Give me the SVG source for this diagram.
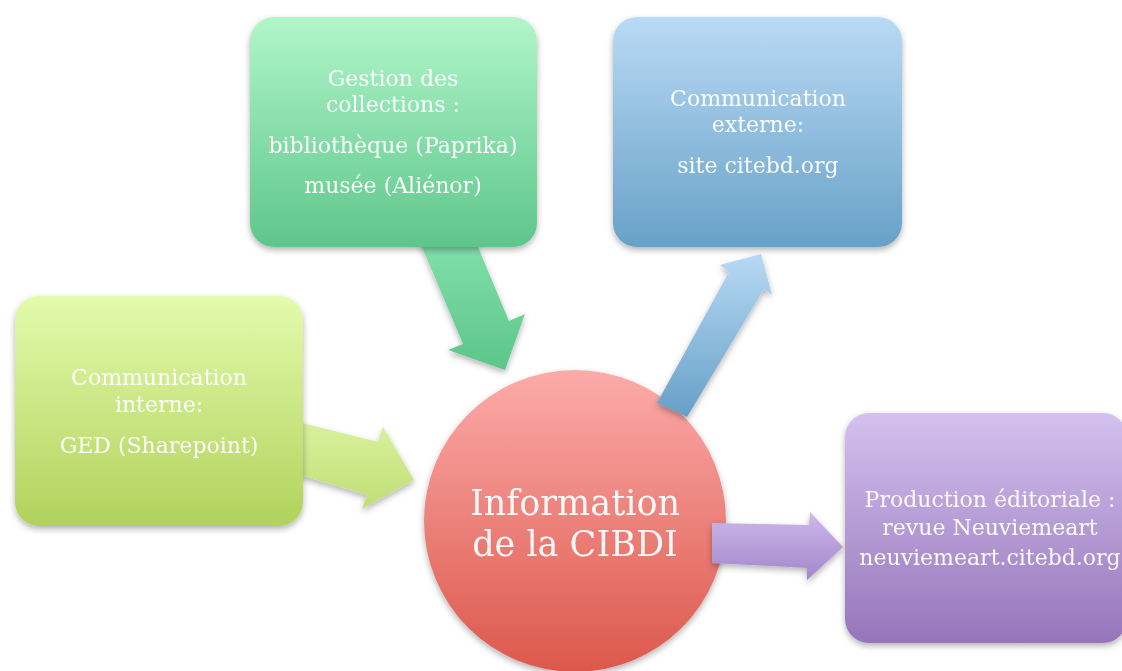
<svg xmlns="http://www.w3.org/2000/svg" width="1122" height="671" viewBox="0 0 1122 671">
<defs>
<linearGradient id="gGreen" x1="0" y1="0" x2="0" y2="1"><stop offset="0" stop-color="#b1f6c9"/><stop offset="1" stop-color="#5ec68b"/></linearGradient>
<linearGradient id="gBlue" x1="0" y1="0" x2="0" y2="1"><stop offset="0" stop-color="#b9daf5"/><stop offset="1" stop-color="#68a1c7"/></linearGradient>
<linearGradient id="gLime" x1="0" y1="0" x2="0" y2="1"><stop offset="0" stop-color="#e3fbac"/><stop offset="1" stop-color="#b1d25c"/></linearGradient>
<linearGradient id="gPurple" x1="0" y1="0" x2="0" y2="1"><stop offset="0" stop-color="#d4c1ef"/><stop offset="1" stop-color="#9675ba"/></linearGradient>
<linearGradient id="gRed" x1="0" y1="0" x2="0" y2="1"><stop offset="0" stop-color="#fcaba9"/><stop offset="1" stop-color="#dc584c"/></linearGradient>
<linearGradient id="aGreen" x1="0" y1="0" x2="0" y2="1"><stop offset="0" stop-color="#84e0ac"/><stop offset="1" stop-color="#5cc689"/></linearGradient>
<linearGradient id="aBlue" x1="0" y1="0" x2="0" y2="1"><stop offset="0" stop-color="#b8d9f5"/><stop offset="1" stop-color="#66a0c6"/></linearGradient>
<linearGradient id="aLime" x1="0" y1="0" x2="0" y2="1"><stop offset="0" stop-color="#d9f29e"/><stop offset="1" stop-color="#c0de76"/></linearGradient>
<linearGradient id="aPurple" x1="0" y1="0" x2="0" y2="1"><stop offset="0" stop-color="#ccb9ea"/><stop offset="1" stop-color="#a386cb"/></linearGradient>
<filter id="sh" x="-10%" y="-10%" width="120%" height="125%"><feDropShadow dx="0" dy="3" stdDeviation="3" flood-color="#000" flood-opacity="0.3"/></filter>
</defs>
<style>
text{font-family:"DejaVu Serif","Liberation Serif",serif;fill:#ffffff;fill-opacity:0.95;text-anchor:middle}
.t{font-size:22px}
.c{font-size:35px}
</style>
<rect width="1122" height="671" fill="#ffffff"/>
<g id="center" filter="url(#sh)">
<circle cx="575" cy="521" r="151" fill="url(#gRed)"/>
<text class="c" x="575" y="515">Information</text>
<text class="c" x="575" y="556">de la CIBDI</text>
</g>
<g id="connectors" filter="url(#sh)">
<polygon points="417,235 473,235 509,321 525,314 505,370 448,350 463,344" fill="url(#aGreen)"/>
<polygon points="657,403 729,272 720,265 761,254 772,295 764,289 687,417" fill="url(#aBlue)"/>
<polygon points="290,420 378,442 383,427 414,480 362,509 367,495 290,472" fill="url(#aLime)"/>
<polygon points="712,523 809,525 810,512 843,547 807,580 807,568 712,563" fill="url(#aPurple)"/>
</g>
<g id="gestion" filter="url(#sh)">
<rect x="250" y="17" width="287" height="230" rx="24" fill="url(#gGreen)"/>
<text class="t" x="393" y="86">Gestion des</text>
<text class="t" x="393" y="112">collections :</text>
<text class="t" x="393" y="153">bibliothèque (Paprika)</text>
<text class="t" x="393" y="193">musée (Aliénor)</text>
</g>
<g id="externe" filter="url(#sh)">
<rect x="613" y="17" width="289" height="230" rx="24" fill="url(#gBlue)"/>
<text class="t" x="758" y="106">Communication</text>
<text class="t" x="758" y="132">externe:</text>
<text class="t" x="758" y="173">site citebd.org</text>
</g>
<g id="interne" filter="url(#sh)">
<rect x="15" y="296" width="288" height="230" rx="24" fill="url(#gLime)"/>
<text class="t" x="159" y="385">Communication</text>
<text class="t" x="159" y="412">interne:</text>
<text class="t" x="159" y="453">GED (Sharepoint)</text>
</g>
<g id="production" filter="url(#sh)">
<rect x="845" y="413" width="282" height="230" rx="24" fill="url(#gPurple)"/>
<text class="t" x="990" y="507">Production éditoriale :</text>
<text class="t" x="990" y="535">revue Neuviemeart</text>
<text class="t" x="990" y="565">neuviemeart.citebd.org</text>
</g>
</svg>
